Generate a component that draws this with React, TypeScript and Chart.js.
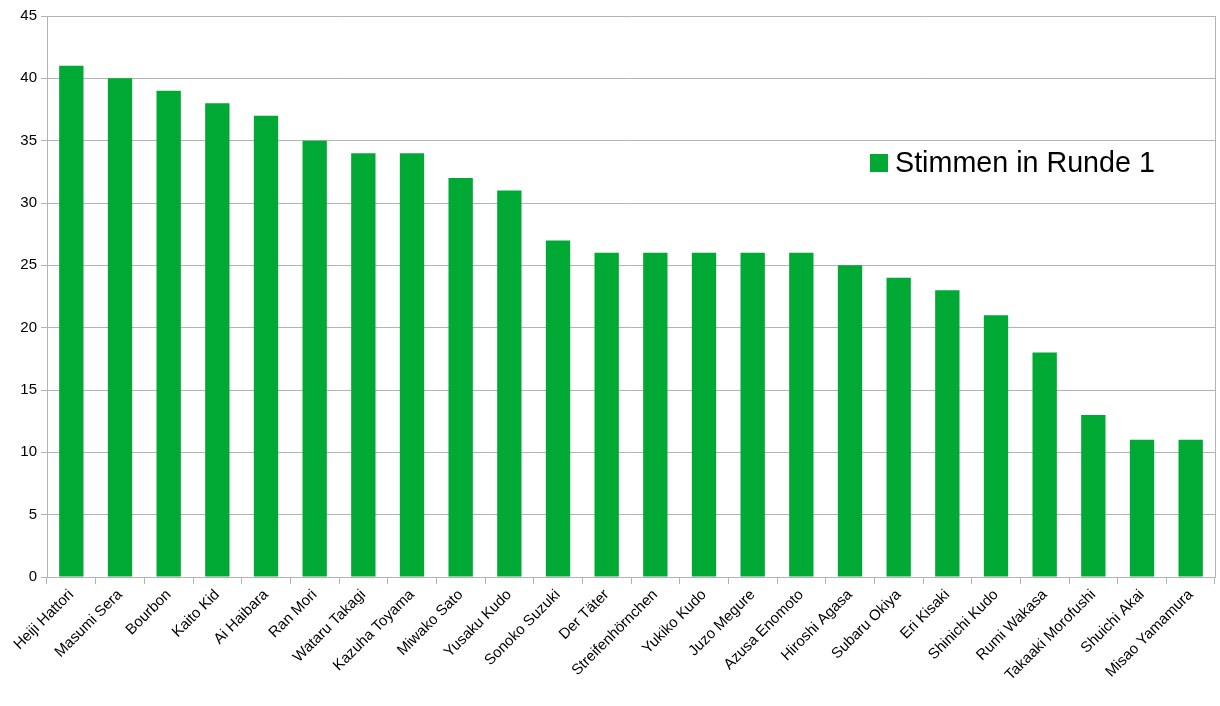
import React, { useEffect, useRef } from "react";
import { Chart, registerables } from "chart.js";

Chart.register(...registerables);

const categories: string[] = [
  "Heiji Hattori", "Masumi Sera", "Bourbon", "Kaito Kid", "Ai Haibara", "Ran Mori",
  "Wataru Takagi", "Kazuha Toyama", "Miwako Sato", "Yusaku Kudo", "Sonoko Suzuki",
  "Der Täter", "Streifenhörnchen", "Yukiko Kudo", "Juzo Megure", "Azusa Enomoto",
  "Hiroshi Agasa", "Subaru Okiya", "Eri Kisaki", "Shinichi Kudo", "Rumi Wakasa",
  "Takaaki Morofushi", "Shuichi Akai", "Misao Yamamura",
];

const votesRound1: number[] = [
  41, 40, 39, 38, 37, 35, 34, 34, 32, 31, 27, 26, 26, 26, 26, 26, 25, 24, 23, 21, 18, 13, 11, 11,
];

const seriesLabel = "Stimmen in Runde 1";
const yMin = 0;
const yMax = 45;
const yStep = 5;

const GREEN = "#00a933";
const GRID = "#b3b3b3";
const FONT = "'Liberation Sans', Arial, sans-serif";

const legendInside = {
  id: "legendInside",
  afterDraw(chart: any) {
    const ctx = chart.ctx;
    const ds = chart.data.datasets[0];
    ctx.save();
    ctx.fillStyle = ds.backgroundColor;
    ctx.fillRect(870, 154, 18, 18);
    ctx.fillStyle = "#000";
    ctx.font = `28.7px ${FONT}`;
    ctx.textBaseline = "alphabetic";
    ctx.textAlign = "left";
    ctx.fillText(ds.label, 895, 172);
    ctx.restore();
  },
};

export default function App() {
  const ref = useRef<HTMLCanvasElement | null>(null);

  useEffect(() => {
    document.body.style.margin = "0";
    if (!ref.current) return;
    const chart = new Chart(ref.current, {
      type: "bar",
      data: {
        labels: categories,
        datasets: [
          {
            label: seriesLabel,
            data: votesRound1,
            backgroundColor: GREEN,
            borderWidth: 0,
            barPercentage: 0.5,
            categoryPercentage: 1,
          },
        ],
      },
      options: {
        animation: false,
        responsive: false,
        maintainAspectRatio: false,
        layout: { padding: { top: 16, right: 5, left: 0, bottom: 0 } },
        plugins: {
          legend: { display: false },
          tooltip: { enabled: false },
        },
        scales: {
          x: {
            grid: {
              display: true,
              drawOnChartArea: false,
              drawTicks: true,
              tickLength: 7,
              color: GRID,
              offset: true,
            },
            border: { display: true, color: GRID, width: 1 },
            ticks: {
              color: "#000",
              font: { family: FONT, size: 15 },
              maxRotation: 45,
              minRotation: 45,
              autoSkip: false,
              padding: 2,
            },
            afterFit: (scale: any) => {
              scale.height = 129;
            },
          },
          y: {
            min: yMin,
            max: yMax,
            ticks: {
              stepSize: yStep,
              color: "#000",
              font: { family: FONT, size: 15 },
              padding: 4,
            },
            grid: {
              color: GRID,
              tickLength: 6,
              drawTicks: true,
            },
            border: { display: true, color: GRID, width: 1 },
            afterFit: (scale: any) => {
              scale.width = 47;
            },
          },
          y2: {
            position: "right",
            min: yMin,
            max: yMax,
            ticks: { display: false },
            grid: { display: false, drawTicks: false },
            border: { display: true, color: GRID, width: 1 },
            afterFit: (scale: any) => {
              scale.width = 0;
            },
          },
        },
      },
      plugins: [legendInside],
    });
    return () => chart.destroy();
  }, []);

  return (
    <div style={{ position: "absolute", left: 0, top: 0, width: 1220, height: 706, background: "#fff" }}>
      <canvas ref={ref} width={1220} height={706} style={{ width: 1220, height: 706 }} />
    </div>
  );
}
